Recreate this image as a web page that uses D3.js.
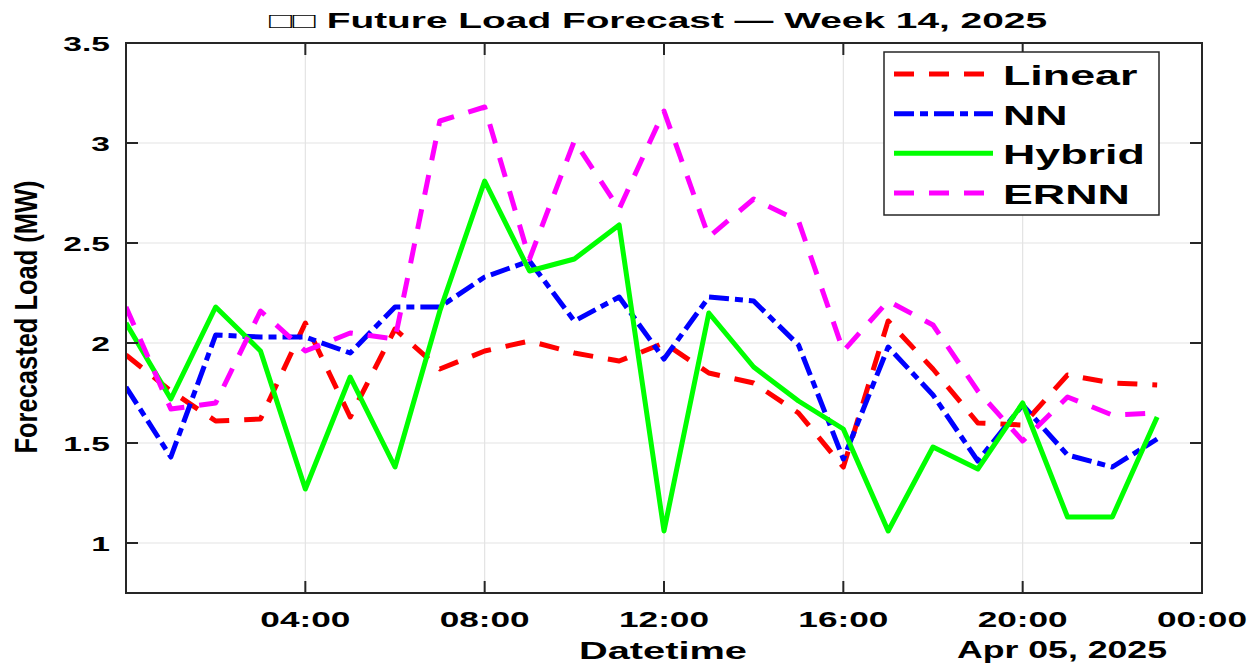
<!DOCTYPE html>
<html>
<head>
<meta charset="utf-8">
<script src="https://cdnjs.cloudflare.com/ajax/libs/d3/7.8.5/d3.min.js"></script>
<style>
	body { margin: 0; background: #fff; }
	text { font-family: "Liberation Sans", Arial, sans-serif; fill: #000; }
</style>
</head>
<body>
<div id="chart"></div>
<script>

// hourly forecast for Apr 05, 2025
var hours = ["00:00","01:00","02:00","03:00","04:00","05:00","06:00","07:00",
	"08:00","09:00","10:00","11:00","12:00","13:00","14:00","15:00",
	"16:00","17:00","18:00","19:00","20:00","21:00","22:00","23:00"];

var linear = [1.94,1.76,1.61,1.62,2.10,1.63,2.07,1.87,1.96,2.01,1.95,1.91,
	2.00,1.85,1.80,1.65,1.38,2.11,1.87,1.60,1.59,1.84,1.80,1.79];
var nn     = [1.78,1.43,2.04,2.03,2.03,1.95,2.18,2.18,2.33,2.41,2.11,2.23,
	1.92,2.23,2.21,1.99,1.42,1.98,1.74,1.41,1.69,1.44,1.38,1.52];
var hybrid = [2.10,1.72,2.18,1.96,1.27,1.83,1.38,2.16,2.81,2.36,2.42,2.59,
	1.06,2.15,1.88,1.71,1.57,1.06,1.48,1.37,1.70,1.13,1.13,1.63];
var ernn   = [2.18,1.67,1.70,2.16,1.96,2.05,2.02,3.11,3.18,2.42,3.01,2.67,
	3.16,2.53,2.72,2.61,1.96,2.21,2.09,1.76,1.51,1.73,1.64,1.65];

var yTicks = [1, 1.5, 2, 2.5, 3, 3.5];
var yTickLabels = ["1", "1.5", "2", "2.5", "3", "3.5"];
var xTickHours = ["00:00","04:00","08:00","12:00","16:00","20:00","00:00"];
var xTickLabels = ["", "04:00", "08:00", "12:00", "16:00", "20:00", "00:00"];

var day = "2025-04-05";
var titleText = "\u25A1\u25A1 Future Load Forecast \u2014 Week 14, 2025";

// series styles
var series = [
	{ name: "Linear", values: linear, color: "#ff0000", dash: "20,15" },
	{ name: "NN",     values: nn,     color: "#0000ff", dash: "20,6,8,6" },
	{ name: "Hybrid", values: hybrid, color: "#00ff00", dash: null },
	{ name: "ERNN",   values: ernn,   color: "#ff00ff", dash: "20,15" }
];

/*
 *	PROPERTIES
 */
var W = 1252, H = 666,
	plot = { left: 126, right: 1202, top: 43, bottom: 593 },
	SX = 1.6,		// text in the picture is stretched sideways
	axisColor = "#262626";

var svg = d3.select("#chart").append("svg")
	.attr("width", W)
	.attr("height", H);

var parse = d3.timeParse("%Y-%m-%d %H:%M");
var t0 = parse(day + " 00:00");
var t1 = d3.timeDay.offset(t0, 1);

var x = d3.scaleTime()
	.domain([t0, t1])
	.range([plot.left, plot.right]);

var y = d3.scaleLinear()
	.domain([0.75, 3.5])
	.range([plot.bottom, plot.top]);

var xTickDates = xTickHours.map(function(h, i){
	return i == xTickHours.length - 1 ? t1 : parse(day + " " + h);
});

// text helper: stretched horizontally like the source
function addText(parent, px, py, str, size, weight, anchor, sx){
	return parent.append("text")
		.attr("transform", "translate(" + px + "," + py + ") scale(" + (sx || SX) + ",1)")
		.attr("text-anchor", anchor)
		.style("font-size", size + "px")
		.style("font-weight", weight)
		.text(str);
}

/*
 *	GRID
 */
var grid = svg.append("g").attr("class", "grid");

grid.selectAll("line.gx")
	.data(xTickDates).enter()
	.append("line")
		.attr("x1", function(d){ return x(d) })
		.attr("x2", function(d){ return x(d) })
		.attr("y1", plot.top)
		.attr("y2", plot.bottom)
		.attr("stroke", "#e3e3e3")
		.attr("stroke-width", 1.2);

grid.selectAll("line.gy")
	.data(yTicks).enter()
	.append("line")
		.attr("x1", plot.left)
		.attr("x2", plot.right)
		.attr("y1", function(d){ return y(d) })
		.attr("y2", function(d){ return y(d) })
		.attr("stroke", "#e3e3e3")
		.attr("stroke-width", 1.2);

/*
 *	LINES
 */
svg.append("clipPath").attr("id", "clip")
	.append("rect")
		.attr("x", plot.left)
		.attr("y", plot.top)
		.attr("width", plot.right - plot.left)
		.attr("height", plot.bottom - plot.top);

var line = d3.line()
	.x(function(d, i){ return x(parse(day + " " + hours[i])) })
	.y(function(d){ return y(d) });

svg.append("g")
	.attr("clip-path", "url(#clip)")
	.selectAll("path")
	.data(series).enter()
	.append("path")
		.attr("d", function(s){ return line(s.values) })
		.attr("fill", "none")
		.attr("stroke", function(s){ return s.color })
		.attr("stroke-width", 5)
		.attr("stroke-linejoin", "round")
		.attr("stroke-dasharray", function(s){ return s.dash });

/*
 *	AXES BOX + TICKS (inside)
 */
var axes = svg.append("g").attr("class", "axes");

axes.append("rect")
	.attr("x", plot.left)
	.attr("y", plot.top)
	.attr("width", plot.right - plot.left)
	.attr("height", plot.bottom - plot.top)
	.attr("fill", "none")
	.attr("stroke", axisColor)
	.attr("stroke-width", 2);

var tick = 12;
yTicks.forEach(function(v, i){
	axes.append("line")
		.attr("x1", plot.left).attr("x2", plot.left + tick)
		.attr("y1", y(v)).attr("y2", y(v))
		.attr("stroke", axisColor).attr("stroke-width", 2);
	axes.append("line")
		.attr("x1", plot.right).attr("x2", plot.right - tick)
		.attr("y1", y(v)).attr("y2", y(v))
		.attr("stroke", axisColor).attr("stroke-width", 2);
	addText(axes, 110, y(v) + 8, yTickLabels[i], 21, "bold", "end");
});

xTickDates.forEach(function(d, i){
	axes.append("line")
		.attr("x1", x(d)).attr("x2", x(d))
		.attr("y1", plot.bottom).attr("y2", plot.bottom - tick)
		.attr("stroke", axisColor).attr("stroke-width", 2);
	axes.append("line")
		.attr("x1", x(d)).attr("x2", x(d))
		.attr("y1", plot.top).attr("y2", plot.top + tick)
		.attr("stroke", axisColor).attr("stroke-width", 2);
	addText(axes, x(d), 627, xTickLabels[i], 22, "bold", "middle");
});

/*
 *	LABELS
 */
svg.append("text")
	.attr("x", 658).attr("y", 28)
	.attr("text-anchor", "middle")
	.attr("textLength", 778)
	.attr("lengthAdjust", "spacingAndGlyphs")
	.style("font-size", "22px")
	.style("font-weight", "bold")
	.text(titleText);

svg.append("text")
	.attr("x", 663).attr("y", 659)
	.attr("text-anchor", "middle")
	.attr("textLength", 168)
	.attr("lengthAdjust", "spacingAndGlyphs")
	.style("font-size", "24px")
	.style("font-weight", "bold")
	.text("Datetime");

svg.append("text")
	.attr("x", 1062).attr("y", 658)
	.attr("text-anchor", "middle")
	.attr("textLength", 210)
	.attr("lengthAdjust", "spacingAndGlyphs")
	.style("font-size", "23px")
	.style("font-weight", "bold")
	.text("Apr 05, 2025");

svg.append("text")
	.attr("transform", "translate(37,317) scale(1.4,1) rotate(-90)")
	.attr("text-anchor", "middle")
	.attr("textLength", 273)
	.attr("lengthAdjust", "spacingAndGlyphs")
	.style("font-size", "22px")
	.style("font-weight", "bold")
	.text("Forecasted Load (MW)");

/*
 *	LEGEND
 */
var legend = svg.append("g").attr("class", "legend");

legend.append("rect")
	.attr("x", 884).attr("y", 52)
	.attr("width", 275).attr("height", 163)
	.attr("fill", "#fff")
	.attr("stroke", axisColor)
	.attr("stroke-width", 1.5);

var rowY = d3.scalePoint()
	.domain(series.map(function(s){ return s.name }))
	.range([74, 193]);

series.forEach(function(s){
	legend.append("line")
		.attr("x1", 894).attr("x2", 993)
		.attr("y1", rowY(s.name)).attr("y2", rowY(s.name))
		.attr("stroke", s.color)
		.attr("stroke-width", 5)
		.attr("stroke-dasharray", s.dash);
	addText(legend, 1003, rowY(s.name) + 11, s.name, 28, "bold", "start");
});

</script>
</body>
</html>
